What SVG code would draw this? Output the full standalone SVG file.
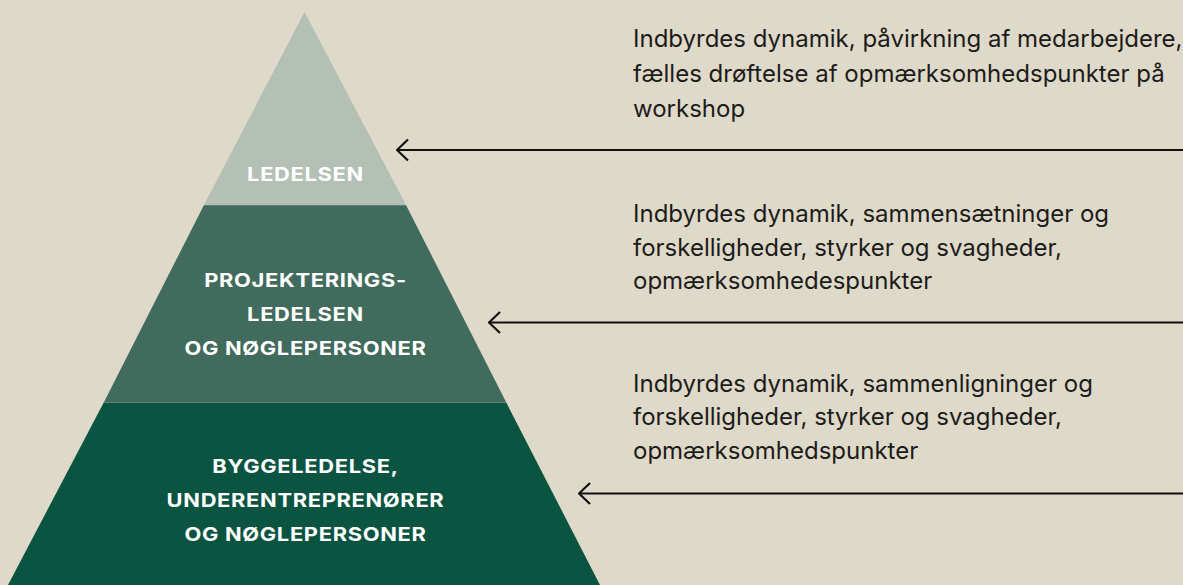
<svg xmlns="http://www.w3.org/2000/svg" width="1183" height="585" viewBox="0 0 1183 585">
<style>
.lbl{font-family:Inter,"Liberation Sans",sans-serif;font-weight:700;font-size:19px;letter-spacing:0.6px;fill:#ffffff;text-anchor:middle}
.desc{font-family:Inter,"Liberation Sans",sans-serif;font-size:24px;fill:#1c1c1a}
.arr{stroke:#111111;stroke-width:2.2;fill:none}
</style>
<defs>
<marker id="head" viewBox="0 0 14 24" refX="12.5" refY="12" markerWidth="14" markerHeight="24" markerUnits="userSpaceOnUse" orient="auto">
<path d="M1.5 1.5 L12.5 12 L1.5 22.5" fill="none" stroke="#111111" stroke-width="2.2"/>
</marker>
</defs>
<rect width="1183" height="585" fill="#dfd9c9"/>
<g id="tier-ledelsen">
<polygon points="304.5,12 406,205 204,205" fill="#b4bfb6"/>
<g transform="translate(305.5,0) scale(1.15,1)">
<text class="lbl" x="0" y="181">LEDELSEN</text>
</g>
</g>
<g id="tier-projektering">
<polygon points="204,205 406,205 506,402 104,402" fill="#416b5c"/>
<line x1="204" y1="205.5" x2="406" y2="205.5" stroke="#5e8272" stroke-width="1"/>
<g transform="translate(305.5,0) scale(1.15,1)">
<text class="lbl" x="0" y="287">PROJEKTERINGS-</text>
<text class="lbl" x="0" y="321">LEDELSEN</text>
<text class="lbl" x="0" y="355">OG NØGLEPERSONER</text>
</g>
</g>
<g id="tier-byggeledelse">
<polygon points="104,402 506,402 600,585 8,585" fill="#0a5441"/>
<line x1="104" y1="402.5" x2="506" y2="402.5" stroke="#5e8272" stroke-width="1"/>
<g transform="translate(305.5,0) scale(1.15,1)">
<text class="lbl" x="0" y="473">BYGGELEDELSE,</text>
<text class="lbl" x="0" y="507">UNDERENTREPRENØRER</text>
<text class="lbl" x="0" y="541">OG NØGLEPERSONER</text>
</g>
</g>
<g id="desc-1">
<text class="desc" x="633" y="47">Indbyrdes dynamik, påvirkning af medarbejdere,</text>
<text class="desc" x="633" y="82">fælles drøftelse af opmærksomhedspunkter på</text>
<text class="desc" x="633" y="117">workshop</text>
</g>
<g id="desc-2">
<text class="desc" x="633" y="222">Indbyrdes dynamik, sammensætninger og</text>
<text class="desc" x="633" y="255.5">forskelligheder, styrker og svagheder,</text>
<text class="desc" x="633" y="289">opmærksomhedespunkter</text>
</g>
<g id="desc-3">
<text class="desc" x="633" y="391.5">Indbyrdes dynamik, sammenligninger og</text>
<text class="desc" x="633" y="425">forskelligheder, styrker og svagheder,</text>
<text class="desc" x="633" y="458.5">opmærksomhedspunkter</text>
</g>
<g id="connectors">
<line class="arr" x1="1183" y1="150" x2="397" y2="150" marker-end="url(#head)"/>
<line class="arr" x1="1183" y1="322.5" x2="489" y2="322.5" marker-end="url(#head)"/>
<line class="arr" x1="1183" y1="493.5" x2="579" y2="493.5" marker-end="url(#head)"/>
</g>
</svg>
